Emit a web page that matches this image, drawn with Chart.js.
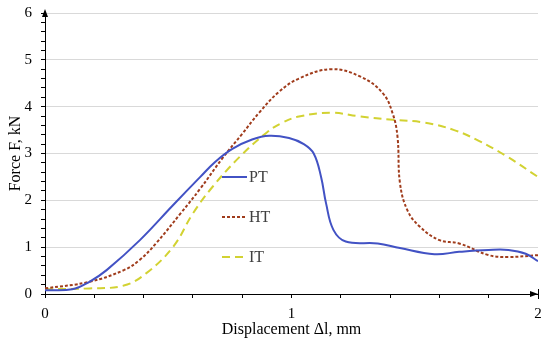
<!DOCTYPE html>
<html>
<head>
<meta charset="utf-8">
<script src="https://cdn.jsdelivr.net/npm/chart.js@4"></script>
<style>
    html, body { margin: 0; padding: 0; background: #fff; }
    #wrap { width: 550px; height: 347px; }
</style>
</head>
<body>
<div id="wrap"><canvas id="forceChart"></canvas></div>
<script>
// Displacement (mm) and force (kN)
const ptX = [0, 0.11, 0.18, 0.25, 0.385, 0.52, 0.63, 0.69, 0.76, 0.84, 0.91, 0.99, 1.05, 1.09, 1.12, 1.14, 1.17, 1.22, 1.35, 1.44, 1.58, 1.68, 1.8, 1.88, 1.95, 2.0];
const ptY = [0.08, 0.1, 0.26, 0.51, 1.15, 1.9, 2.5, 2.82, 3.1, 3.3, 3.38, 3.33, 3.2, 3.0, 2.5, 1.94, 1.37, 1.12, 1.08, 0.98, 0.85, 0.9, 0.94, 0.94, 0.86, 0.7];

const htX = [0, 0.18, 0.32, 0.385, 0.45, 0.55, 0.63, 0.72, 0.8, 0.87, 0.95, 1.03, 1.16, 1.28, 1.37, 1.41, 1.43, 1.44, 1.47, 1.52, 1.6, 1.68, 1.8, 1.88, 2.0];
const htY = [0.12, 0.26, 0.51, 0.73, 1.08, 1.72, 2.25, 2.9, 3.42, 3.88, 4.32, 4.6, 4.8, 4.64, 4.29, 3.86, 3.36, 2.37, 1.79, 1.44, 1.15, 1.08, 0.83, 0.79, 0.83];

const itX = [0, 0.18, 0.32, 0.41, 0.52, 0.6, 0.68, 0.79, 0.9, 0.96, 1.03, 1.16, 1.28, 1.41, 1.54, 1.66, 1.76, 1.87, 2.0];
const itY = [0.1, 0.12, 0.18, 0.44, 1.01, 1.72, 2.29, 2.93, 3.45, 3.65, 3.79, 3.87, 3.79, 3.72, 3.66, 3.5, 3.27, 2.95, 2.5];

const seriesNames = ["PT", "HT", "IT"];
const xTickLabels = [0, 1, 2];
const yTickLabels = [0, 1, 2, 3, 4, 5, 6];

function toPoints(xs, ys) {
    return xs.map((x, i) => ({ x: x, y: ys[i] }));
}

const isWhole = (v) => Math.abs(v - Math.round(v)) < 1e-6;
const serif = "'Liberation Serif', 'Times New Roman', serif";

// legend drawn inside the plot, stacked under each other
const innerLegend = {
    id: "innerLegend",
    afterDatasetsDraw(chart) {
        const ctx = chart.ctx;
        const left = chart.chartArea.left + 177;
        ctx.save();
        chart.data.datasets.forEach((ds, i) => {
            const y = chart.chartArea.top + 164 + i * 40;
            ctx.beginPath();
            ctx.strokeStyle = ds.borderColor;
            ctx.lineWidth = ds.borderWidth;
            ctx.setLineDash(ds.borderDash || []);
            ctx.moveTo(left, y);
            ctx.lineTo(left + 25, y);
            ctx.stroke();
            ctx.setLineDash([]);
            ctx.fillStyle = "#404040";
            ctx.font = "16px " + serif;
            ctx.textBaseline = "middle";
            ctx.fillText(ds.label, left + 27, y + 1);
        });
        ctx.restore();
    }
};

// arrow heads at the ends of both axes
const axisArrows = {
    id: "axisArrows",
    afterDraw(chart) {
        const ctx = chart.ctx;
        const a = chart.chartArea;
        ctx.save();
        ctx.fillStyle = "#000";
        ctx.strokeStyle = "#000";
        ctx.lineWidth = 1;
        ctx.beginPath();
        ctx.moveTo(a.left, a.top - 4);
        ctx.lineTo(a.left - 3, a.top + 4);
        ctx.lineTo(a.left + 3, a.top + 4);
        ctx.closePath();
        ctx.fill();
        ctx.beginPath();
        ctx.moveTo(a.right, a.bottom);
        ctx.lineTo(a.right - 8, a.bottom - 3);
        ctx.lineTo(a.right - 8, a.bottom + 3);
        ctx.closePath();
        ctx.fill();
        ctx.beginPath();
        ctx.moveTo(a.right + 0.5, a.bottom - 5);
        ctx.lineTo(a.right + 0.5, a.bottom + 5);
        ctx.stroke();
        ctx.restore();
    }
};

const ctx = document.getElementById("forceChart").getContext("2d");
new Chart(ctx, {
    type: "line",
    data: {
        datasets: [
            {
                label: seriesNames[0],
                data: toPoints(ptX, ptY),
                borderColor: "#4252c4",
                borderWidth: 2,
                pointRadius: 0,
                tension: 0.4
            },
            {
                label: seriesNames[1],
                data: toPoints(htX, htY),
                borderColor: "#a03c1c",
                borderWidth: 2,
                borderDash: [3, 2],
                pointRadius: 0,
                tension: 0.4
            },
            {
                label: seriesNames[2],
                data: toPoints(itX, itY),
                borderColor: "#d2d232",
                borderWidth: 2,
                borderDash: [8, 5],
                pointRadius: 0,
                tension: 0.4
            }
        ]
    },
    options: {
        responsive: true,
        maintainAspectRatio: false,
        animation: false,
        layout: { padding: { left: 0, right: 12, top: 13, bottom: 0 } },
        plugins: {
            legend: { display: false },
            tooltip: { enabled: false }
        },
        scales: {
            x: {
                type: "linear",
                min: 0,
                max: 2,
                afterFit: (scale) => {
                    scale.height = 53;
                    scale.paddingLeft = 0;
                    scale.paddingRight = 0;
                },
                border: { color: "#000", width: 1 },
                grid: {
                    color: "transparent",
                    tickColor: "#000",
                    tickLength: 4
                },
                ticks: {
                    stepSize: 0.2,
                    autoSkip: false,
                    maxRotation: 0,
                    padding: 7,
                    color: "#000",
                    font: { family: serif, size: 15 },
                    callback: (v) => (isWhole(v) && xTickLabels.includes(Math.round(v)) ? String(Math.round(v)) : "")
                },
                title: {
                    display: true,
                    text: "Displacement Δl, mm",
                    color: "#000",
                    font: { family: serif, size: 16 },
                    padding: { top: 2, bottom: 8 }
                }
            },
            y: {
                min: 0,
                max: 6,
                afterFit: (scale) => {
                    scale.width = 45;
                    scale.paddingTop = 0;
                    scale.paddingBottom = 0;
                },
                border: { color: "#000", width: 1 },
                grid: {
                    color: (c) => (isWhole(c.tick.value) && c.tick.value > 0 ? "#d9d9d9" : "transparent"),
                    tickColor: "#000",
                    tickLength: 4
                },
                ticks: {
                    stepSize: 0.2,
                    autoSkip: false,
                    padding: 9,
                    color: "#000",
                    font: { family: serif, size: 15 },
                    callback: (v) => (isWhole(v) && yTickLabels.includes(Math.round(v)) ? String(Math.round(v)) : "")
                },
                title: {
                    display: true,
                    text: "Force F, kN",
                    color: "#000",
                    font: { family: serif, size: 16 },
                    padding: { top: 6, bottom: 0 }
                }
            }
        }
    },
    plugins: [innerLegend, axisArrows]
});
</script>
</body>
</html>
